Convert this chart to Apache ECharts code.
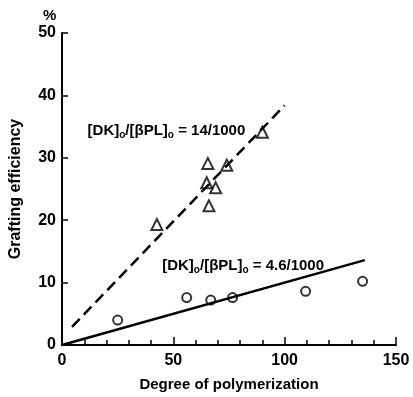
<!DOCTYPE html>
<html><head><meta charset="utf-8">
<script src="https://cdn.jsdelivr.net/npm/echarts@6/dist/echarts.min.js"></script>
<style>html,body{margin:0;padding:0;background:#fff}#c{width:413px;height:397px}</style>
</head><body><div id="c"></div>
<script>
// Data
const circlesData = [[25,4.0],[56,7.6],[66.8,7.2],[76.6,7.6],[109.4,8.6],[135,10.2]];
const trianglesData = [[42.6,19.3],[65.5,29.1],[74,28.8],[65,26.0],[69,25.2],[66,22.3],[90,34.1]];
const solidLine = [[0,0],[136,13.6]];
const dashedLine = [[4.5,2.9],[100,38.4]];
const xTicks = [0,50,100,150];
const yTicks = [0,10,20,30,40,50];
const label14 = {x:11.5, y:34.3, text:'[DK]{s|o}/[βPL]{s|o} = 14/1000'};
const label46 = {x:45, y:12.7, text:'[DK]{s|o}/[βPL]{s|o} = 4.6/1000'};

const font = 'Liberation Sans';
const chart = echarts.init(document.getElementById('c'));
const axisStyle = {lineStyle:{color:'#000', width:2}};
chart.setOption({
  animation:false,
  grid:{left:62, right:17, top:33, bottom:50},
  xAxis:{type:'value', min:xTicks[0], max:xTicks[xTicks.length-1], interval:50,
    axisLine:{show:true, ...axisStyle},
    axisTick:{show:true, inside:true, length:8, lineStyle:{color:'#000', width:1.5}},
    minorTick:{show:true, splitNumber:5, length:5, lineStyle:{color:'#000', width:1.5}},
    splitLine:{show:false},
    axisLabel:{color:'#000', fontFamily:font, fontWeight:'bold', fontSize:16, margin:8},
    name:'Degree of polymerization', nameLocation:'middle', nameGap:32,
    nameTextStyle:{color:'#000', fontFamily:font, fontWeight:'bold', fontSize:15}
  },
  yAxis:{type:'value', min:yTicks[0], max:yTicks[yTicks.length-1], interval:10,
    axisLine:{show:true, ...axisStyle},
    axisTick:{show:true, inside:true, length:6, lineStyle:{color:'#000', width:1.5}},
    splitLine:{show:false},
    axisLabel:{color:'#000', fontFamily:font, fontWeight:'bold', fontSize:16, margin:6},
    name:'Grafting efficiency', nameLocation:'middle', nameGap:38,
    nameTextStyle:{color:'#000', fontFamily:font, fontWeight:'bold', fontSize:16}
  },
  series:[
    {type:'line', data:solidLine, symbol:'none', lineStyle:{color:'#000', width:2.5}},
    {type:'line', data:dashedLine, symbol:'none', lineStyle:{color:'#000', width:2.5, type:[11,6]}},
    {type:'scatter', data:circlesData, symbol:'circle', symbolSize:9,
      itemStyle:{color:'#fff', borderColor:'#000', borderWidth:2}},
    {type:'scatter', data:trianglesData, symbol:'triangle', symbolSize:11,
      itemStyle:{color:'rgba(255,255,255,0)', borderColor:'#000', borderWidth:2}}
  ]
});
function txt(l){
  const p = chart.convertToPixel({gridIndex:0}, [l.x, l.y]);
  return {type:'text', x:p[0], y:p[1], style:{text:l.text, fill:'#000',
    font:'bold 15px "'+font+'"', verticalAlign:'middle',
    rich:{s:{fontSize:10, fontWeight:'bold', fontFamily:font, padding:[9,0,0,0], fill:'#000'}}}};
}
chart.setOption({graphic:[
  txt(label14), txt(label46),
  {type:'text', x:43, y:8, style:{text:'%', fill:'#000', font:'bold 15px "'+font+'"'}}
]});
</script></body></html>
